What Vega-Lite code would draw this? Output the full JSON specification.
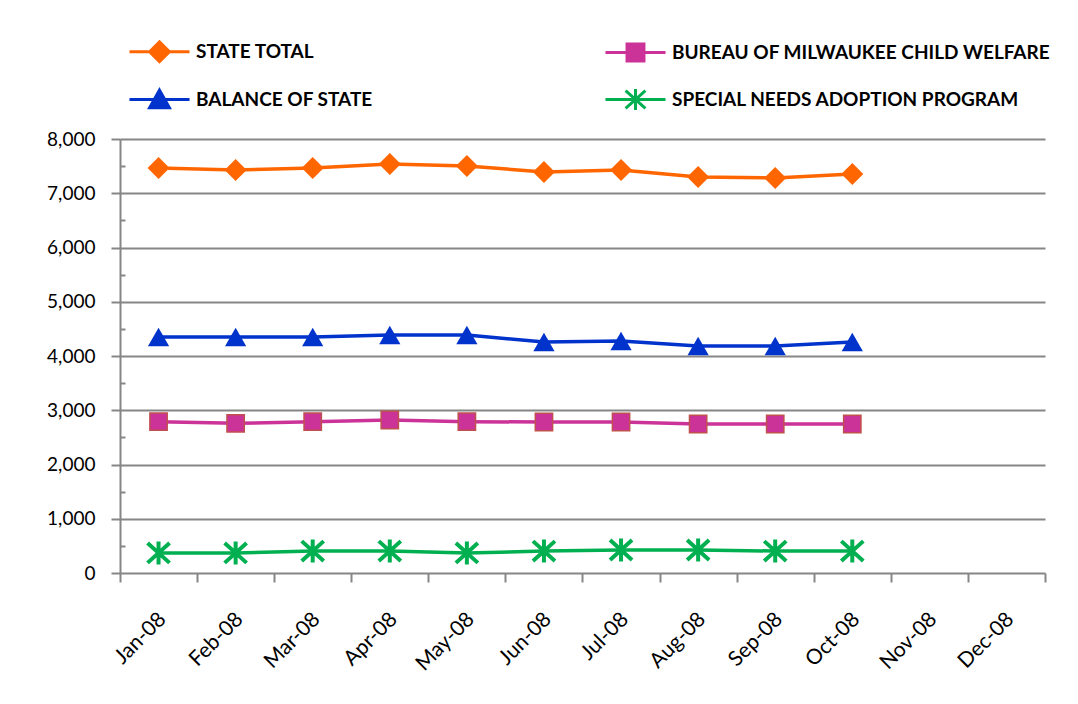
{
  "$schema": "https://vega.github.io/schema/vega-lite/v6.json",
  "width": 925,
  "height": 434,
  "autosize": {"type": "none"},
  "padding": {"left": 120, "top": 139, "right": 33, "bottom": 131},
  "background": "white",
  "config": {
    "view": {"stroke": null},
    "font": "Lato",
    "axis": {"labelFont": "Lato", "labelColor": "black", "labelFontSize": 19, "domainColor": "#868686", "domainWidth": 2, "tickColor": "#868686", "tickWidth": 2, "gridColor": "#868686", "gridWidth": 2, "title": null}
  },
  "data": {
    "values": [
      {"month": "Jan-08", "series": "State Total", "value": 7465},
      {"month": "Feb-08", "series": "State Total", "value": 7428},
      {"month": "Mar-08", "series": "State Total", "value": 7465},
      {"month": "Apr-08", "series": "State Total", "value": 7539},
      {"month": "May-08", "series": "State Total", "value": 7502},
      {"month": "Jun-08", "series": "State Total", "value": 7392},
      {"month": "Jul-08", "series": "State Total", "value": 7428},
      {"month": "Aug-08", "series": "State Total", "value": 7300},
      {"month": "Sep-08", "series": "State Total", "value": 7281},
      {"month": "Oct-08", "series": "State Total", "value": 7355},
      {"month": "Jan-08", "series": "Bureau of Milwaukee Child Welfare", "value": 2789},
      {"month": "Feb-08", "series": "Bureau of Milwaukee Child Welfare", "value": 2759},
      {"month": "Mar-08", "series": "Bureau of Milwaukee Child Welfare", "value": 2789},
      {"month": "Apr-08", "series": "Bureau of Milwaukee Child Welfare", "value": 2820},
      {"month": "May-08", "series": "Bureau of Milwaukee Child Welfare", "value": 2789},
      {"month": "Jun-08", "series": "Bureau of Milwaukee Child Welfare", "value": 2783},
      {"month": "Jul-08", "series": "Bureau of Milwaukee Child Welfare", "value": 2783},
      {"month": "Aug-08", "series": "Bureau of Milwaukee Child Welfare", "value": 2746},
      {"month": "Sep-08", "series": "Bureau of Milwaukee Child Welfare", "value": 2746},
      {"month": "Oct-08", "series": "Bureau of Milwaukee Child Welfare", "value": 2746},
      {"month": "Jan-08", "series": "Balance of State", "value": 4350},
      {"month": "Feb-08", "series": "Balance of State", "value": 4350},
      {"month": "Mar-08", "series": "Balance of State", "value": 4350},
      {"month": "Apr-08", "series": "Balance of State", "value": 4387},
      {"month": "May-08", "series": "Balance of State", "value": 4387},
      {"month": "Jun-08", "series": "Balance of State", "value": 4258},
      {"month": "Jul-08", "series": "Balance of State", "value": 4276},
      {"month": "Aug-08", "series": "Balance of State", "value": 4184},
      {"month": "Sep-08", "series": "Balance of State", "value": 4184},
      {"month": "Oct-08", "series": "Balance of State", "value": 4258},
      {"month": "Jan-08", "series": "Special Needs Adoption Program", "value": 369},
      {"month": "Feb-08", "series": "Special Needs Adoption Program", "value": 369},
      {"month": "Mar-08", "series": "Special Needs Adoption Program", "value": 405},
      {"month": "Apr-08", "series": "Special Needs Adoption Program", "value": 405},
      {"month": "May-08", "series": "Special Needs Adoption Program", "value": 369},
      {"month": "Jun-08", "series": "Special Needs Adoption Program", "value": 405},
      {"month": "Jul-08", "series": "Special Needs Adoption Program", "value": 424},
      {"month": "Aug-08", "series": "Special Needs Adoption Program", "value": 424},
      {"month": "Sep-08", "series": "Special Needs Adoption Program", "value": 405},
      {"month": "Oct-08", "series": "Special Needs Adoption Program", "value": 405}
    ]
  },
  "encoding": {
    "x": {
      "field": "month", "type": "nominal", "sort": null,
      "scale": {"domain": ["Jan-08","Feb-08","Mar-08","Apr-08","May-08","Jun-08","Jul-08","Aug-08","Sep-08","Oct-08","Nov-08","Dec-08"], "paddingInner": 0, "paddingOuter": 0},
      "axis": {"tickBand": "extent", "tickSize": 9, "labelAngle": -45, "labelFontSize": 21, "labelPadding": 26, "labelOffset": -4, "grid": false}
    },
    "y": {
      "field": "value", "type": "quantitative",
      "scale": {"domain": [0, 8000], "nice": false},
      "axis": {
        "values": [0,500,1000,1500,2000,2500,3000,3500,4000,4500,5000,5500,6000,6500,7000,7500,8000],
        "labelExpr": "datum.value % 1000 == 0 ? format(datum.value, ',') : ''",
        "gridOpacity": {"condition": {"test": "datum.value % 1000 != 0 || datum.value == 0", "value": 0}, "value": 1},
        "tickSize": {"condition": {"test": "datum.value % 1000 != 0", "value": -5}, "value": 9},
        "labelPadding": 16
      }
    }
  },
  "layer": [
    {
      "mark": {"type": "line", "strokeWidth": 3.5},
      "encoding": {
        "color": {
          "field": "series", "type": "nominal",
          "scale": {"domain": ["State Total", "Balance of State", "Bureau of Milwaukee Child Welfare", "Special Needs Adoption Program"], "range": ["#FF6600", "#0033CC", "#CC3399", "#00B050"]},
          "legend": {
            "title": null, "orient": "none", "legendX": 27, "legendY": -100, "columns": 2,
            "symbolSize": 484, "symbolStrokeWidth": 3, "labelOffset": 24, "columnPadding": 226, "rowPadding": 15,
            "labelFont": "Lato", "labelFontSize": 19, "labelFontWeight": "bold", "labelColor": "black", "labelLimit": 500,
            "labelExpr": "upper(datum.label)",
            "encode": {
              "symbols": {
                "update": {
                  "shape": {"signal": "datum.value === 'State Total' ? 'M-2.73,0H2.73M-0.9,0L0,-0.9L0.9,0L0,0.9Z' : datum.value === 'Bureau of Milwaukee Child Welfare' ? 'M-2.73,0H2.73M-0.77,-0.77H0.77V0.77H-0.77Z' : datum.value === 'Balance of State' ? 'M-2.73,0H2.73M0,-0.85L0.9,0.75H-0.9Z' : 'M-2.73,0H2.73M-0.9,-0.8L0.9,0.8M-0.9,0.8L0.9,-0.8M0,-0.95V0.95'"},
                  "fill": {"signal": "scale('color', datum.value)"},
                  "stroke": {"signal": "scale('color', datum.value)"},
                  "strokeWidth": {"value": 3},
                  "opacity": {"value": 1}
                }
              }
            }
          }
        }
      }
    },
    {
      "transform": [{"filter": "datum.series === 'State Total'"}],
      "mark": {"type": "point", "shape": "diamond", "filled": true, "fill": "#FF6600", "size": 484, "opacity": 1}
    },
    {
      "transform": [{"filter": "datum.series === 'Bureau of Milwaukee Child Welfare'"}],
      "mark": {"type": "point", "shape": "square", "filled": true, "fill": "#CC3399", "stroke": "#C0504D", "strokeWidth": 1.5, "size": 300, "opacity": 1}
    },
    {
      "transform": [{"filter": "datum.series === 'Balance of State'"}],
      "mark": {"type": "point", "shape": "triangle-up", "filled": true, "fill": "#0033CC", "size": 450, "opacity": 1}
    },
    {
      "transform": [{"filter": "datum.series === 'Special Needs Adoption Program'"}],
      "mark": {"type": "point", "shape": "M-1,-0.9L1,0.9M-1,0.9L1,-0.9M0,-1.05V1.05", "filled": false, "stroke": "#00B050", "strokeWidth": 4, "size": 484, "opacity": 1}
    }
  ]
}
